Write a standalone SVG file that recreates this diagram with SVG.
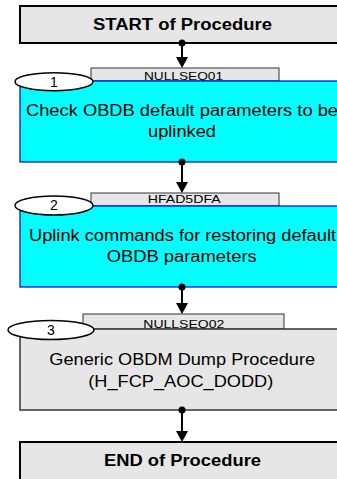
<svg xmlns="http://www.w3.org/2000/svg" width="337" height="479" viewBox="0 0 337 479">
<style>
.term{fill:#e6e6e6;stroke:#000;stroke-width:2}
.tab{fill:#e6e6e6;stroke:#333;stroke-width:1}
.cyan{fill:#00ffff;stroke:#0000e0;stroke-width:1.2}
.gray{fill:#e6e6e6;stroke:#333;stroke-width:1.5}
.ell{fill:#fff;stroke:#000;stroke-width:1.5}
text{font-family:"Liberation Sans",Arial,sans-serif;text-anchor:middle;fill:#000}
.tt{font-size:16px;font-weight:bold}
.bt{font-size:16px}
.lt{font-size:11.5px}
.nt{font-size:14px}
.conn line{stroke:#000;stroke-width:2}
.conn polygon,.conn circle{fill:#000}
</style>
<g id="start">
<rect class="term" x="20" y="6" width="330" height="37"/>
<text class="tt" x="182.5" y="29.5" textLength="179" lengthAdjust="spacingAndGlyphs">START of Procedure</text>
</g>
<g id="step1">
<rect class="tab" x="91" y="68" width="188" height="13"/>
<text class="lt" x="183.5" y="80" textLength="79" lengthAdjust="spacingAndGlyphs">NULLSEQ01</text>
<rect class="cyan" x="20" y="81" width="330" height="81"/>
<text class="bt" x="182" y="115.5" textLength="312" lengthAdjust="spacingAndGlyphs">Check OBDB default parameters to be</text>
<text class="bt" x="182" y="137" textLength="68" lengthAdjust="spacingAndGlyphs">uplinked</text>
<ellipse class="ell" cx="54" cy="81.7" rx="39" ry="9"/>
<text class="nt" x="54" y="86.5">1</text>
</g>
<g id="step2">
<rect class="tab" x="91" y="193" width="188" height="13"/>
<text class="lt" x="184.2" y="203" textLength="73" lengthAdjust="spacingAndGlyphs">HFAD5DFA</text>
<rect class="cyan" x="20" y="206" width="330" height="81"/>
<text class="bt" x="182.5" y="240.5" textLength="307" lengthAdjust="spacingAndGlyphs">Uplink commands for restoring default</text>
<text class="bt" x="181.7" y="261.5" textLength="150" lengthAdjust="spacingAndGlyphs">OBDB parameters</text>
<ellipse class="ell" cx="54" cy="205.5" rx="39" ry="9.5"/>
<text class="nt" x="54" y="210">2</text>
</g>
<g id="step3">
<rect class="tab" x="83" y="314" width="201" height="15"/>
<text class="lt" x="183.8" y="327.5" textLength="81" lengthAdjust="spacingAndGlyphs">NULLSEQ02</text>
<rect class="gray" x="20" y="329" width="330" height="81"/>
<text class="bt" x="182.2" y="365" textLength="265.7" lengthAdjust="spacingAndGlyphs">Generic OBDM Dump Procedure</text>
<text class="bt" x="180.8" y="386.5" textLength="185" lengthAdjust="spacingAndGlyphs">(H_FCP_AOC_DODD)</text>
<ellipse class="ell" cx="51" cy="330" rx="43" ry="9.5"/>
<text class="nt" x="51" y="334.5">3</text>
</g>
<g id="end">
<rect class="term" x="20" y="442" width="330" height="50"/>
<text class="tt" x="182.5" y="466" textLength="157" lengthAdjust="spacingAndGlyphs">END of Procedure</text>
</g>
<g id="connectors" class="conn">
<line x1="182" y1="43" x2="182" y2="58"/>
<polygon points="176,57 188,57 182,68"/>
<circle cx="182" cy="43" r="3.5"/>
<line x1="182" y1="162" x2="182" y2="183"/>
<polygon points="176,182 188,182 182,193"/>
<circle cx="182" cy="162" r="3.5"/>
<line x1="182" y1="287" x2="182" y2="304"/>
<polygon points="176,303 188,303 182,314"/>
<circle cx="182" cy="287" r="3.5"/>
<line x1="182" y1="410" x2="182" y2="432"/>
<polygon points="176,431 188,431 182,442"/>
<circle cx="182" cy="410" r="3.5"/>
</g>
</svg>
